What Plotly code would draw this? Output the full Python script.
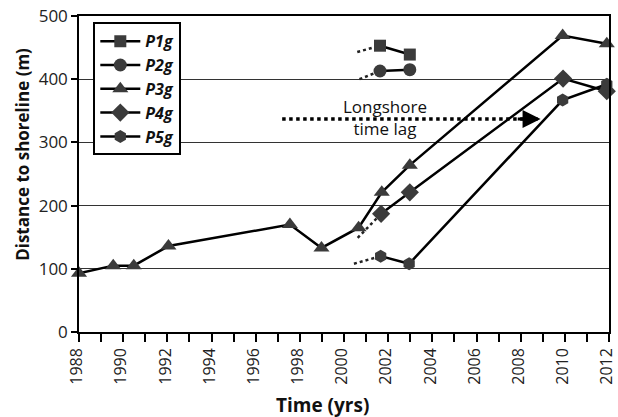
import plotly.graph_objects as go

# ---- data ----
p1_x = [2001.63, 2002.98]
p1_y = [453, 439]
p1_lead_x = [2000.6, 2001.63]
p1_lead_y = [443, 453]

p2_x = [2001.63, 2002.98]
p2_y = [413, 415]
p2_lead_x = [2000.7, 2001.63]
p2_lead_y = [400, 413]

p3_x = [1988.0, 1989.55, 1990.48, 1992.05, 1997.55, 1998.98, 2000.66, 2001.71, 2002.98, 2009.9, 2011.9]
p3_y = [93, 105, 105, 136, 170, 133, 165, 221, 264, 469, 456]

p4_x = [2001.68, 2002.98, 2009.92, 2011.9]
p4_y = [187, 221, 401, 381]
p4_lead_x = [2000.62, 2001.68]
p4_lead_y = [149, 187]

p5_x = [2001.66, 2002.95, 2009.9, 2011.9]
p5_y = [120, 108, 367, 392]
p5_lead_x = [2000.45, 2001.66]
p5_lead_y = [108, 120]

lag_x = [1997.2, 2008.9]
lag_y = [337, 337]
lag_text = "Longshore<br>time lag"
lag_text_pos = (2001.85, 339)

x_ticks = list(range(1988, 2013, 2))
y_ticks = [0, 100, 200, 300, 400, 500]

FONT = "Open Sans"
MC = "#3b3b3b"

fig = go.Figure()

def lead(xs, ys):
    fig.add_trace(go.Scatter(x=xs, y=ys, mode="lines", showlegend=False,
                             line=dict(color="#222", width=2.5, dash="dot"),
                             hoverinfo="skip"))

for lx, ly in [(p1_lead_x, p1_lead_y), (p2_lead_x, p2_lead_y),
               (p4_lead_x, p4_lead_y), (p5_lead_x, p5_lead_y)]:
    lead(lx, ly)

series = [
    ("P1g", p1_x, p1_y, "square", 12),
    ("P2g", p2_x, p2_y, "circle", 13),
    ("P3g", p3_x, p3_y, "triangle-up", 14),
    ("P4g", p4_x, p4_y, "diamond", 14),
    ("P5g", p5_x, p5_y, "hexagon", 13),
]
for name, xs, ys, sym, sz in series:
    fig.add_trace(go.Scatter(
        x=xs, y=ys, mode="lines+markers", name=f"<b><i>{name}</i></b>",
        line=dict(color="black", width=2.5),
        marker=dict(symbol=sym, size=sz, color=MC, line=dict(width=0)),
        cliponaxis=False,
    ))

# longshore time lag arrow
fig.add_trace(go.Scatter(x=lag_x, y=lag_y, mode="lines", showlegend=False,
                         line=dict(color="black", width=3.5, dash="dot"),
                         hoverinfo="skip"))
fig.add_annotation(x=lag_x[1], y=lag_y[1], ax=lag_x[1] - 1.1, ay=lag_y[1],
                   xref="x", yref="y", axref="x", ayref="y",
                   showarrow=True, arrowhead=2, arrowsize=1.2, arrowwidth=3,
                   arrowcolor="black", text="")
fig.add_annotation(x=lag_text_pos[0], y=lag_text_pos[1], text=lag_text, showarrow=False,
                   font=dict(family=FONT, size=17, color="#111"),
                   align="center")

# axis titles (offset as in the reference)
fig.add_annotation(x=0.46, y=-0.232, xref="paper", yref="paper", yanchor="middle",
                   text="<b>Time (yrs)</b>", showarrow=False,
                   font=dict(family=FONT, size=19, color="#111"))
fig.add_annotation(x=-0.108, y=0.563, xref="paper", yref="paper", xanchor="center",
                   text="<b>Distance to shoreline (m)</b>", showarrow=False, textangle=-90,
                   font=dict(family=FONT, size=17, color="#111"))

fig.update_layout(
    width=618, height=417,
    margin=dict(l=79, r=9, t=16, b=85, autoexpand=False),
    paper_bgcolor="white", plot_bgcolor="white",
    font=dict(family=FONT, color="#111"),
    legend=dict(x=0.027, y=0.98, xanchor="left", yanchor="top",
                bordercolor="black", borderwidth=2, bgcolor="white",
                font=dict(family=FONT, size=16, color="#111"),
                tracegroupgap=0, itemwidth=40),
    xaxis=dict(range=[1988, 2012], tickvals=x_ticks, tickangle=-90,
               ticklabeloverflow="allow", automargin=False, ticklabelshift=-2,
               showgrid=False, zeroline=False,
               showline=True, linecolor="black", linewidth=1.5, mirror=True,
               ticks="outside", ticklen=8, tickwidth=1.5, tickcolor="black",
               minor=dict(dtick=1, ticks="outside", ticklen=8, tickwidth=1.5, tickcolor="black"),
               tickfont=dict(family=FONT, size=16, color="#222")),
    yaxis=dict(range=[0, 500], tickvals=y_ticks, automargin=False,
               showgrid=True, gridcolor="#333", gridwidth=1.2, zeroline=False,
               showline=True, linecolor="black", linewidth=1.5, mirror=True,
               ticks="outside", ticklen=6, tickwidth=1.5, tickcolor="black",
               tickfont=dict(family=FONT, size=17, color="#222")),
)

fig.write_html("out.html")
